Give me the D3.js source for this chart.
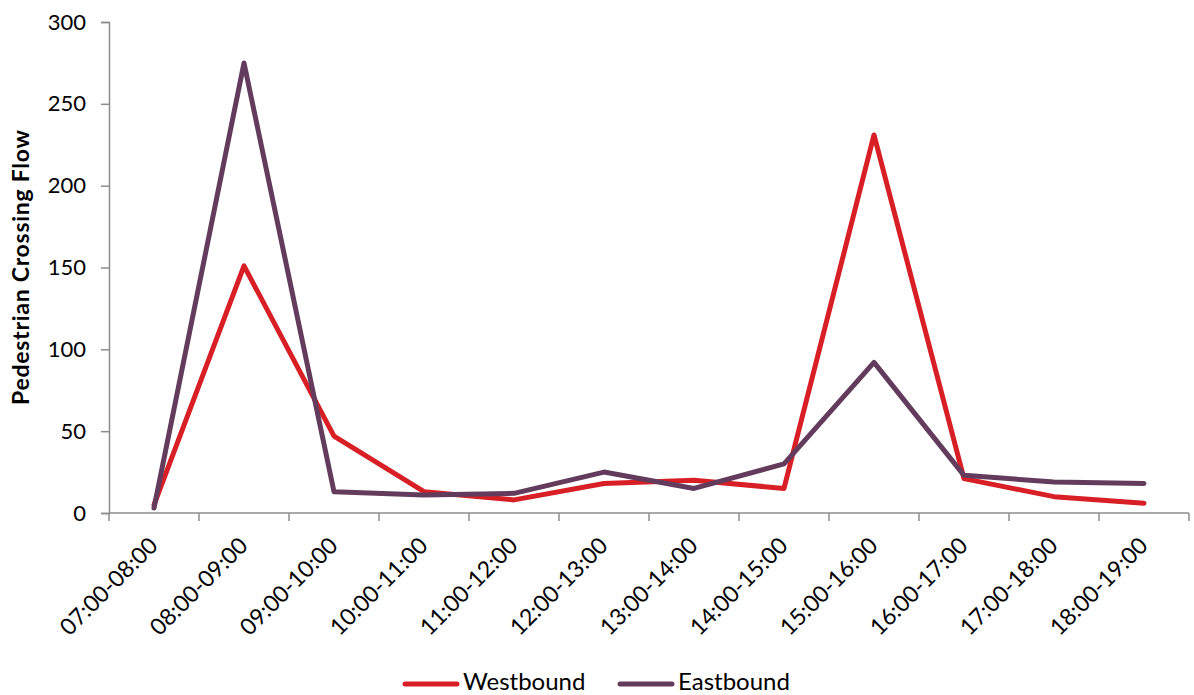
<!DOCTYPE html>
<html>
<head>
<meta charset="utf-8">
<script src="https://cdn.jsdelivr.net/npm/d3@7"></script>
<style>
  html, body { margin: 0; padding: 0; background: #fff; }
  svg { display: block; font-family: Lato, "Open Sans", sans-serif; }
</style>
</head>
<body>
<svg id="chart" width="1194" height="695"></svg>
<script>
// Hourly pedestrian crossing counts by direction
const periods = ["07:00-08:00", "08:00-09:00", "09:00-10:00", "10:00-11:00", "11:00-12:00", "12:00-13:00",
                 "13:00-14:00", "14:00-15:00", "15:00-16:00", "16:00-17:00", "17:00-18:00", "18:00-19:00"];
const westbound = [5, 151, 47, 13, 8, 18, 20, 15, 231, 21, 10, 6];
const eastbound = [3, 275, 13, 11, 12, 25, 15, 30, 92, 23, 19, 18];
const yTicks = [0, 50, 100, 150, 200, 250, 300];

const seriesList = [
  { name: "Westbound", values: westbound, color: "#d91f26" },
  { name: "Eastbound", values: eastbound, color: "#633b5c" }
];

const svg = d3.select("#chart");
const plotLeft = 109, plotRight = 1189, plotTop = 22, plotBottom = 513;

const x = d3.scaleBand().domain(periods).range([plotLeft, plotRight]).paddingInner(0).paddingOuter(0);
const y = d3.scaleLinear().domain([0, 300]).range([plotBottom, plotTop]);
const cx = d => x(d) + x.bandwidth() / 2;

const axisColor = "#8c8c8c";

// Y axis
const yAxis = svg.append("g").attr("transform", `translate(${plotLeft},0)`)
  .call(d3.axisLeft(y).tickValues(yTicks).tickSize(8).tickPadding(15));
yAxis.select(".domain").attr("stroke", axisColor).attr("stroke-width", 1.5);
yAxis.selectAll(".tick line").attr("stroke", axisColor).attr("stroke-width", 1.5);
yAxis.selectAll(".tick text").attr("font-size", 22).attr("fill", "#000")
  .attr("font-family", "Lato, sans-serif");

// X axis with ticks on band boundaries
const xAxis = svg.append("g").attr("transform", `translate(0,${plotBottom})`);
xAxis.append("line").attr("x1", plotLeft).attr("x2", plotRight).attr("y1", 0).attr("y2", 0)
  .attr("stroke", axisColor).attr("stroke-width", 1.5);
const boundaries = periods.map(p => x(p)).concat([x(periods[periods.length - 1]) + x.bandwidth()]);
xAxis.selectAll("line.tk").data(boundaries).join("line").attr("class", "tk")
  .attr("x1", d => d).attr("x2", d => d).attr("y1", 0).attr("y2", 8)
  .attr("stroke", axisColor).attr("stroke-width", 1.5);
xAxis.selectAll("text.lbl").data(periods).join("text").attr("class", "lbl")
  .attr("transform", d => `translate(${cx(d) + 1},${30}) rotate(-45)`)
  .attr("text-anchor", "end")
  .attr("dominant-baseline", "middle")
  .attr("font-size", 23)
  .attr("fill", "#000")
  .text(d => d);

// Y axis title
svg.append("text")
  .attr("transform", `translate(29,${(plotTop + plotBottom) / 2}) rotate(-90)`)
  .attr("text-anchor", "middle")
  .attr("font-size", 23)
  .attr("font-weight", "bold")
  .attr("fill", "#000")
  .attr("textLength", 275)
  .attr("lengthAdjust", "spacing")
  .text("Pedestrian Crossing Flow");

// Series lines
const line = d3.line().x((v, i) => cx(periods[i])).y(v => y(v));
svg.selectAll("path.series").data(seriesList).join("path").attr("class", "series")
  .attr("d", d => line(d.values))
  .attr("fill", "none")
  .attr("stroke", d => d.color)
  .attr("stroke-width", 5)
  .attr("stroke-linejoin", "round")
  .attr("stroke-linecap", "round");

// Legend
const legendX = [405, 620];
const legend = svg.selectAll("g.legend").data(seriesList).join("g").attr("class", "legend")
  .attr("transform", (d, i) => `translate(${legendX[i]},684)`);
legend.append("line").attr("x1", 0).attr("x2", 52).attr("y1", 0).attr("y2", 0)
  .attr("stroke", d => d.color).attr("stroke-width", 5).attr("stroke-linecap", "round");
legend.append("text").attr("x", 58).attr("y", 6)
  .attr("font-size", 24).attr("fill", "#000").text(d => d.name);
</script>
</body>
</html>
